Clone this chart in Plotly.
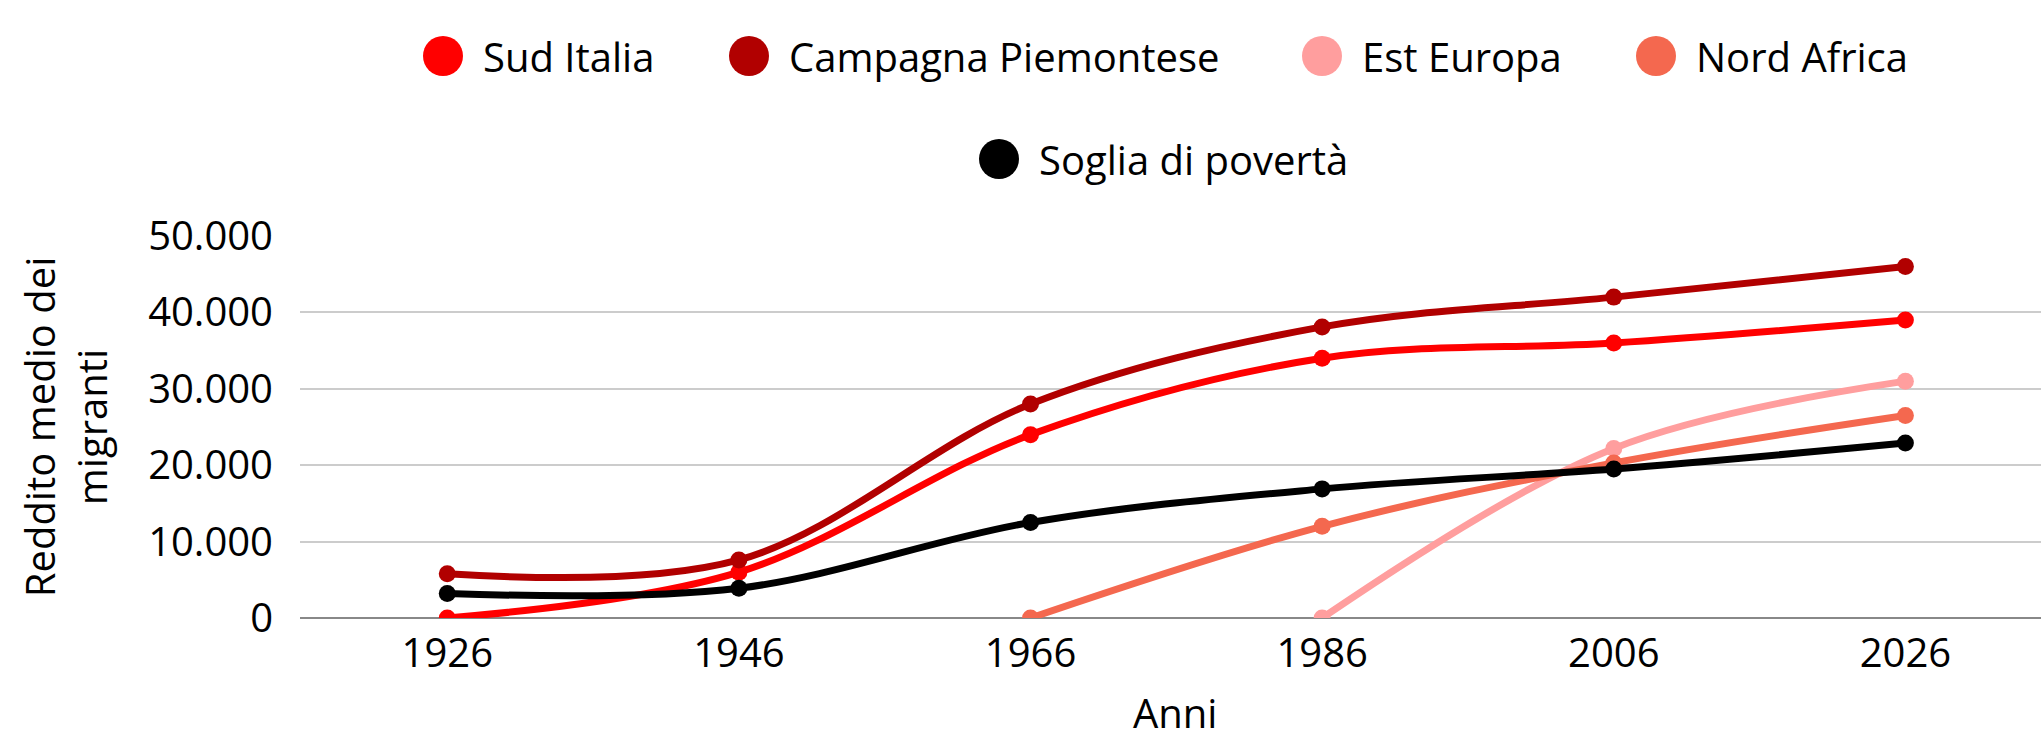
import plotly.graph_objects as go

# data
anni = [1926, 1946, 1966, 1986, 2006, 2026]
sud_italia = [0, 6000, 24000, 34000, 36000, 39000]
campagna_piemontese = [5800, 7600, 28000, 38100, 42000, 46000]
est_europa = [None, None, None, 0, 22200, 31000]
nord_africa = [None, None, 0, 12000, 20300, 26500]
soglia_poverta = [3200, 3900, 12500, 16900, 19500, 22900]

serie = [
    ("Sud Italia", sud_italia, "#ff0000"),
    ("Campagna Piemontese", campagna_piemontese, "#b10000"),
    ("Est Europa", est_europa, "#ff9e9e"),
    ("Nord Africa", nord_africa, "#f4684f"),
    ("Soglia di povertà", soglia_poverta, "#000000"),
]

W, H = 2041, 731
L, R, T, B = 300, 0, 236, 113
FONT = "Open Sans"
FS = 40

fig = go.Figure()
for nome, valori, colore in serie:
    fig.add_trace(go.Scatter(
        x=anni, y=valori, name=nome, mode="lines+markers",
        line=dict(color=colore, width=7, shape="spline", smoothing=1),
        marker=dict(color=colore, size=17),
        showlegend=False,
    ))

# legend drawn by hand so the dots can be as big as in the reference
pw, ph = W - L - R, H - T - B
def px(x):
    return (x - L) / pw
def py(y):
    return (H - B - y) / ph

legenda = [(443, 56), (749, 56), (1322, 56), (1656, 56), (999, 159)]
shapes, annotations = [], []
for (nome, _, colore), (cx, cy) in zip(serie, legenda):
    shapes.append(dict(
        type="circle", xref="paper", yref="paper",
        xsizemode="pixel", ysizemode="pixel",
        xanchor=px(cx), yanchor=py(cy),
        x0=-20, x1=20, y0=-20, y1=20,
        fillcolor=colore, line=dict(width=0),
    ))
    annotations.append(dict(
        text=nome, xref="paper", yref="paper",
        x=px(cx + 38), y=py(cy), xanchor="left", yanchor="middle",
        showarrow=False, font=dict(family=FONT, size=FS, color="#000000"),
    ))

# x-axis title sits low, right at the bottom edge as in the reference
annotations.append(dict(
    text="Anni", xref="paper", yref="paper", x=px(1175), y=py(712),
    xanchor="center", yanchor="middle", showarrow=False,
    font=dict(family=FONT, size=FS, color="#000000"),
))

fig.update_layout(
    width=W, height=H,
    margin=dict(l=L, r=R, t=T, b=B, autoexpand=False),
    paper_bgcolor="white", plot_bgcolor="white",
    font=dict(family=FONT, size=FS, color="#000000"),
    separators=",.",
    shapes=shapes, annotations=annotations,
    showlegend=False,
)
fig.update_xaxes(
    range=[1915.9, 2035.3], tickvals=anni, showgrid=False, zeroline=False,
    showline=False, ticks="", ticklabelstandoff=8, automargin=False,
)
fig.update_yaxes(
    range=[0, 50000], tickvals=[0, 10000, 20000, 30000, 40000, 50000],
    tickformat=",d", showgrid=True, gridcolor="#cccccc", gridwidth=2,
    zeroline=True, zerolinecolor="#888888", zerolinewidth=2,
    ticks="", ticklabelstandoff=26, automargin=False,
    title=dict(text="Reddito medio dei<br>migranti", standoff=28, font=dict(size=FS)),
)

fig.write_html("out.html", config={"displayModeBar": False},
               post_script="document.body.style.margin='0';")
